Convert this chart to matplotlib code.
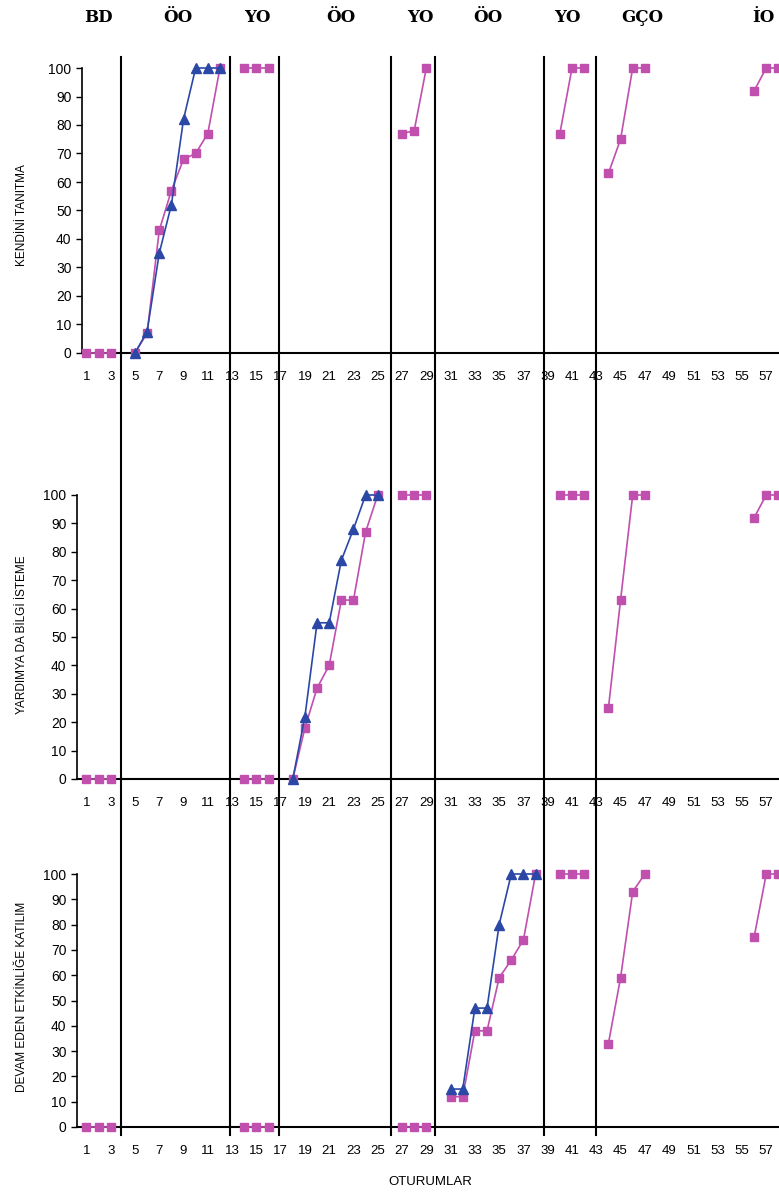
import numpy as np
import matplotlib.pyplot as plt
from matplotlib.lines import Line2D
from matplotlib.transforms import blended_transform_factory

plt.rcParams['font.family'] = ['Liberation Sans', 'DejaVu Sans']

# sessions on the category axis
sessions = np.arange(1, 59)

# phase names over the chart and where the phase-change lines sit
phase_names = ['BD', 'ÖO', 'YO', 'ÖO', 'YO', 'ÖO', 'YO', 'GÇO', 'İO']
phase_label_x = [1.96, 8.55, 15.1, 22.0, 28.5, 34.1, 40.6, 46.8, 56.8]
phase_lines = [3.85, 12.8, 16.85, 26.1, 29.7, 38.7, 43.0]

skill_names = ['KENDİNİ TANITMA', 'YARDIMYA DA BİLGİ İSTEME', 'DEVAM EDEN ETKİNLİĞE KATILIM']

# values per panel, given as {first session: [values...]}; gaps stay empty
kendini_mag = {1: [0, 0, 0], 5: [0, 7, 43, 57, 68, 70, 77, 100], 14: [100, 100, 100],
               27: [77, 78, 100], 40: [77, 100, 100], 44: [63, 75, 100, 100], 56: [92, 100, 100]}
kendini_blue = {5: [0, 7.5, 35, 52, 82, 100, 100, 100]}

yardim_mag = {1: [0, 0, 0], 14: [0, 0, 0], 18: [0, 18, 32, 40, 63, 63, 87, 100],
              27: [100, 100, 100], 40: [100, 100, 100], 44: [25, 63, 100, 100], 56: [92, 100, 100]}
yardim_blue = {18: [0, 22, 55, 55, 77, 88, 100, 100]}

devam_mag = {1: [0, 0, 0], 14: [0, 0, 0], 27: [0, 0, 0], 31: [12, 12, 38, 38, 59, 66, 74, 100],
             40: [100, 100, 100], 44: [33, 59, 93, 100], 56: [75, 100, 100]}
devam_blue = {31: [15, 15, 47, 47, 80, 100, 100, 100]}

MAG = '#c04fae'
BLUE = '#2b48a6'


def to_series(segments):
    arr = np.full(len(sessions), np.nan)
    for start, vals in segments.items():
        arr[start - 1:start - 1 + len(vals)] = vals
    return arr


W, H = 779, 1198
fig = plt.figure(figsize=(W / 100, H / 100), dpi=100)

x1_px, step = 86.4, 12.14   # pixel of session 1 and pixels per session


def add_panel(left, top, bottom):
    ax = fig.add_axes([left / W, 1 - bottom / H, (W - left) / W, (bottom - top) / H])
    ax.set_xlim(1 - (x1_px - left) / step, 1 + (W - x1_px) / step)
    ax.set_ylim(0, 100)
    return ax


panels = [
    (add_panel(82, 68, 353), kendini_mag, kendini_blue),
    (add_panel(77, 495, 779), yardim_mag, yardim_blue),
    (add_panel(77, 874, 1127), devam_mag, devam_blue),
]

label_y = [215, 635, 997]
for (ax, mag, blue), name, ly in zip(panels, skill_names, label_y):
    ax.plot(sessions, to_series(mag), color=MAG, marker='s', ms=6, lw=1.2,
            clip_on=False, zorder=3)
    ax.plot(sessions, to_series(blue), color=BLUE, marker='^', ms=6.5, lw=1.2,
            clip_on=False, zorder=4)
    for s in ['top', 'right']:
        ax.spines[s].set_visible(False)
    ax.spines['left'].set_linewidth(1.2)
    ax.spines['bottom'].set_linewidth(1.5)
    ax.set_xticks(np.arange(1, 58, 2))
    ax.set_yticks(np.arange(0, 101, 10))
    ax.tick_params(axis='x', length=0, pad=13, labelsize=9.5)
    ax.tick_params(axis='y', length=4, width=1, labelsize=10)
    fig.text(22 / W, 1 - ly / H, name, rotation=90, ha='center', va='center',
             fontsize=8.5)

# phase-change lines run through all three panels
trans = blended_transform_factory(panels[0][0].transData, fig.transFigure)
for x in phase_lines:
    fig.add_artist(Line2D([x, x], [1 - 57 / H, 1 - 1135 / H], transform=trans,
                          color='black', lw=1.5))

for name, x in zip(phase_names, phase_label_x):
    fig.text(x, 1 - 17 / H, name, transform=trans, ha='center', va='center',
             fontsize=12, fontweight='heavy', family='DejaVu Serif')

fig.text(430 / W, 1 - 1182 / H, 'OTURUMLAR', ha='center', va='center', fontsize=9.5)

plt.savefig('out.png', dpi=100)
